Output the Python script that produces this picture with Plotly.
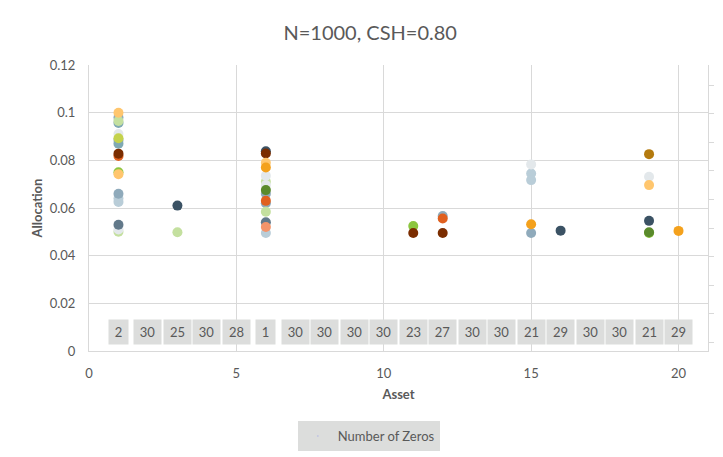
import plotly.graph_objects as go

# ---- data ----
zero_assets = list(range(1, 21))
zero_counts = [2, 30, 25, 30, 28, 1, 30, 30, 30, 30, 23, 27, 30, 30, 21, 29, 30, 30, 21, 29]
zero_label_y = 0.008

blue_grey_x = [1, 1, 1, 6, 6, 12, 15]
blue_grey_y = [0.098, 0.0885, 0.066, 0.066, 0.062, 0.0566, 0.0495]

light_blue_x = [1, 1, 6, 15, 15]
light_blue_y = [0.064, 0.0625, 0.0495, 0.0745, 0.0717]

teal_x = [1, 1]
teal_y = [0.0957, 0.087]

white_x = [1, 1, 6, 6, 15, 19]
white_y = [0.091, 0.051, 0.0735, 0.0696, 0.0783, 0.0731]

light_green_x = [1, 3, 6, 6, 1]
light_green_y = [0.0965, 0.0498, 0.071, 0.0584, 0.0500]

green_x = [1, 11, 19]
green_y = [0.075, 0.0524, 0.0495]

dark_green_x = [6, 19]
dark_green_y = [0.0675, 0.0498]

yellow_green_x = [1]
yellow_green_y = [0.0893]

slate_x = [1, 6]
slate_y = [0.053, 0.054]

dark_slate_x = [3, 6, 16, 19]
dark_slate_y = [0.061, 0.0838, 0.0505, 0.0546]

light_orange_x = [1, 1, 6, 19]
light_orange_y = [0.1, 0.0742, 0.079, 0.0696]

orange_x = [6, 15, 20]
orange_y = [0.077, 0.0532, 0.0504]

salmon_x = [6]
salmon_y = [0.052]

orange_red_x = [1, 6, 12]
orange_red_y = [0.0818, 0.063, 0.0556]

dark_brown_x = [1, 6, 11, 12]
dark_brown_y = [0.0828, 0.0829, 0.0495, 0.0495]

dark_gold_x = [19]
dark_gold_y = [0.0826]

series = [
    (light_blue_x, light_blue_y, "#b9cdd8"),
    (blue_grey_x, blue_grey_y, "#8faabb"),
    (teal_x, teal_y, "#7fa9b4"),
    (light_green_x, light_green_y, "#c4e09f"),
    (white_x, white_y, "#e3e8eb"),
    (yellow_green_x, yellow_green_y, "#c4d24c"),
    (green_x, green_y, "#8cc63f"),
    (dark_green_x, dark_green_y, "#5a8a2c"),
    (slate_x, slate_y, "#62798a"),
    (salmon_x, salmon_y, "#f4946a"),
    (orange_red_x, orange_red_y, "#e0601f"),
    (dark_slate_x, dark_slate_y, "#3b5264"),
    (dark_brown_x, dark_brown_y, "#7b2d00"),
    (light_orange_x, light_orange_y, "#ffc66e"),
    (orange_x, orange_y, "#f4a11c"),
    (dark_gold_x, dark_gold_y, "#b47a0e"),
]

FONT = "Lato"
GREY = "#595959"
GRID = "#d9d9d9"

fig = go.Figure()

# legend entry for Number of Zeros (invisible marker)
fig.add_trace(go.Scatter(
    x=zero_assets, y=[zero_label_y] * len(zero_assets), mode="markers",
    marker=dict(size=1, opacity=0), name="Number of Zeros", showlegend=True,
    hoverinfo="skip"))

for xs, ys, col in series:
    fig.add_trace(go.Scatter(
        x=xs, y=ys, mode="markers", showlegend=False,
        marker=dict(size=10, color=col, line=dict(width=0))))

# invisible trace to activate secondary axis
fig.add_trace(go.Scatter(x=[None], y=[None], yaxis="y2", showlegend=False))

for a, c in zip(zero_assets, zero_counts):
    lab = str(c)
    fig.add_annotation(
        x=a, y=zero_label_y, text=lab, showarrow=False, xref="x", yref="y",
        bgcolor="#dcdddc", width=9 + 8 * len(lab), height=22,
        font=dict(family=FONT, size=13, color=GREY), xanchor="center", yanchor="middle")

fig.update_layout(
    width=723, height=457,
    margin=dict(l=89, r=15, t=65, b=106, autoexpand=False),
    paper_bgcolor="white", plot_bgcolor="white",
    title=dict(text="N=1000, CSH=0.80", x=0.512, xanchor="center", y=0.928, yanchor="middle",
               font=dict(family=FONT, size=20, color=GREY)),
    font=dict(family=FONT, size=12, color=GREY),
    xaxis=dict(range=[0, 21], dtick=5, tick0=0, showgrid=True, gridcolor=GRID, gridwidth=1,
               showline=True, linecolor=GRID, linewidth=1, zeroline=False, ticks="",
               automargin=False, ticklabelstandoff=10,
               title=dict(text="<b>Asset</b>", font=dict(family=FONT, size=13, color=GREY), standoff=10),
               tickfont=dict(family=FONT, size=13, color=GREY)),
    yaxis=dict(range=[0, 0.12], dtick=0.02, tick0=0, showgrid=True, gridcolor=GRID, gridwidth=1,
               showline=True, linecolor=GRID, linewidth=1, zeroline=False, ticks="",
               automargin=False, ticklabelstandoff=10,
               title=dict(text="<b>Allocation</b>", font=dict(family=FONT, size=13, color=GREY), standoff=4),
               tickfont=dict(family=FONT, size=13, color=GREY)),
    yaxis2=dict(overlaying="y", side="right", range=[0, 10], tickvals=[i + 0.3 for i in range(10)],
                showticklabels=False, ticks="outside", ticklen=5, tickcolor=GRID,
                automargin=False,
                showline=True, linecolor=GRID, showgrid=False, zeroline=False),
    legend=dict(x=0.452, y=-0.245, xanchor="center", yanchor="top", orientation="h",
                bgcolor="#dcdddc", font=dict(family=FONT, size=13, color=GREY)),
    showlegend=True,
)

fig.write_html("out.html", config={"displayModeBar": False},
               post_script="document.body.style.margin='0';")
